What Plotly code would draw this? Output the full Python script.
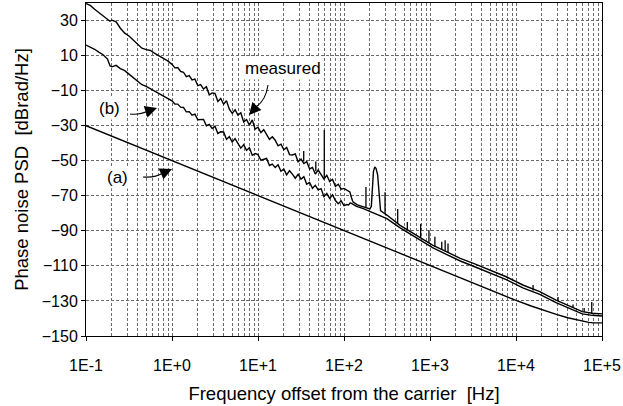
import plotly.graph_objects as go

# ---------------- data ----------------
# curve (a): model
a_freq = [0.1, 1, 10, 100, 1000, 5000, 10000, 15000, 20000, 25000, 30000,
          40000, 50000, 60000, 70000, 80000, 90000, 100000]
a_psd = [-30, -50, -70, -90, -110, -123.9, -129.7, -132.9, -135.0, -136.6,
         -137.8, -139.6, -140.8, -141.7, -142.2, -142.5, -142.6, -142.5]

# noisy low-frequency part (shared frequency grid)
low_freq = [0.1, 0.112, 0.126, 0.141, 0.158, 0.178, 0.19, 0.2, 0.224, 0.251,
            0.282, 0.316, 0.355, 0.398, 0.447, 0.501, 0.562, 0.631, 0.708,
            0.794, 0.891]
mid_freq = [1.000, 1.080, 1.166, 1.259, 1.359, 1.468, 1.585, 1.711, 1.848,
            1.995, 2.154, 2.326, 2.512, 2.712, 2.929, 3.162, 3.415, 3.687,
            3.981, 4.299, 4.642, 5.012, 5.412, 5.843, 6.310, 6.813, 7.356,
            7.943, 8.577, 9.261]
high_freq = [10.00, 10.80, 11.66, 12.59, 13.59, 14.68, 15.85, 17.11, 18.48,
             19.95, 21.54, 23.26, 25.12, 27.12, 29.29, 31.62, 34.15, 36.87,
             39.81, 42.99, 46.42, 50.12, 54.12, 58.43, 63.10, 68.13, 73.56,
             79.43, 85.77, 92.61, 100.0, 108.0]

meas_low = [39.7, 38.6, 36.4, 34.6, 33.0, 30.8, 29.6, 30.2, 29.2, 25.6, 22.8,
            21.2, 18.8, 16.6, 14.2, 13.4, 12.9, 11.2, 9.8, 8.0, 7.0]
meas_mid = [5.0, 3.0, 3.2, 1.0, 0.5, -2.0, -1.4, -3.9, -3.4, -7.2, -6.6,
            -9.1, -7.8, -12.4, -11.3, -11.6, -16.2, -14.5, -17.8, -15.8,
            -20.6, -23.0, -20.9, -24.0, -22.6, -27.9, -26.5, -29.7, -26.7,
            -32.0]
meas_high = [-30.9, -33.9, -32.3, -35.3, -37.8, -36.3, -38.3, -41.5, -40.6,
             -43.7, -42.4, -46.5, -46.7, -46.1, -50.6, -49.1, -51.6, -50.5,
             -54.7, -53.8, -57.6, -55.3, -57.7, -60.4, -58.3, -61.9, -60.6,
             -64.6, -63.4, -66.2, -65.8, -67.0]

b_low = [16.0, 15.0, 13.6, 12.0, 10.5, 8.0, 4.2, 3.6, 4.4, 2.6, 1.4, -0.6,
         -2.5, -4.4, -6.6, -7.6, -9.0, -10.4, -12.0, -13.2, -14.6]
b_mid = [-15.8, -17.6, -17.7, -19.4, -19.6, -22.1, -22.0, -24.0, -23.4,
         -26.6, -26.3, -26.4, -30.0, -29.2, -31.6, -30.3, -34.4, -33.5, -33.6,
         -37.8, -36.3, -39.3, -37.4, -40.5, -42.8, -40.9, -44.1, -42.6, -46.9,
         -45.9]
b_high = [-46.5, -49.7, -49.0, -48.7, -52.7, -51.9, -53.9, -52.3, -56.0,
          -54.8, -58.1, -55.7, -57.6, -60.0, -57.7, -60.5, -59.1, -63.4,
          -62.4, -65.7, -64.0, -66.6, -65.9, -70.5, -68.6, -71.5, -69.4,
          -72.7, -74.5, -72.9, -75.6, -75.0]

# smooth high-frequency parts
meas_hf_freq = [113, 117, 122, 127, 143, 163, 175, 190, 200, 208, 214, 220,
                228, 236, 246, 256, 266, 290, 315, 445, 695, 1070, 1570, 2250,
                3200, 4950, 7700, 12000, 18900, 29200, 45500, 59000, 77000,
                100000]
meas_hf_psd = [-67.5, -67.8, -71.0, -73.5, -75.2, -76.0, -76.5, -77.0, -77.5,
               -76.0, -64.0, -56.0, -53.5, -54.5, -58.0, -70.0, -78.5, -79.8,
               -81.0, -86.7, -92.4, -98.1, -102.0, -105.7, -108.6, -112.4,
               -116.2, -120.9, -124.7, -129.5, -133.6, -136.1, -137.0, -137.4]

b_hf_freq = [113, 118, 125, 140, 165, 200, 275, 315, 445, 695, 1070, 1570,
             2250, 3200, 4950, 7700, 12000, 18900, 29200, 45500, 59000, 77000,
             100000]
b_hf_psd = [-75.2, -74.0, -74.6, -76.0, -77.2, -79.0, -81.6, -83.0, -88.2,
            -94.0, -99.6, -103.6, -107.2, -110.2, -114.0, -117.8, -122.5,
            -126.3, -131.0, -135.0, -137.4, -138.2, -138.6]

# discrete spurs on the measured spectrum
spur_freq = [34, 47, 59, 180, 300, 421, 545, 778, 972, 1140, 1370, 1500, 1620,
             15800, 30800, 46000, 62000, 76000]
spur_base = [-50.5, -56.0, -59.5, -76.5, -80.3, -86.0, -89.5, -94.0, -97.0,
             -99.0, -100.8, -101.6, -102.2, -124.0, -130.0, -133.7, -136.3,
             -137.0]
spur_top = [-44.5, -50.5, -32.5, -65.0, -68.0, -77.5, -85.0, -86.0, -89.6,
            -93.4, -96.2, -95.3, -97.2, -120.9, -127.7, -132.0, -134.0,
            -130.6]

xtick_vals = [0.1, 1, 10, 100, 1000, 10000, 100000]
xtick_text = ["1E-1", "1E+0", "1E+1", "1E+2", "1E+3", "1E+4", "1E+5"]
ytick_vals = [-150, -130, -110, -90, -70, -50, -30, -10, 10, 30]

# ---------------- figure ----------------
FONT = "Arial, Liberation Sans, sans-serif"
LINE = dict(color="black", width=1.4)

fig = go.Figure()
fig.add_trace(go.Scatter(x=a_freq, y=a_psd, mode="lines", line=dict(color="black", width=1.4),
                         hoverinfo="skip"))
fig.add_trace(go.Scatter(x=low_freq + mid_freq + high_freq + b_hf_freq,
                         y=b_low + b_mid + b_high + b_hf_psd,
                         mode="lines", line=LINE, hoverinfo="skip"))
fig.add_trace(go.Scatter(x=low_freq + mid_freq + high_freq + meas_hf_freq,
                         y=meas_low + meas_mid + meas_high + meas_hf_psd,
                         mode="lines", line=LINE, hoverinfo="skip"))
sx, sy = [], []
for f, b, t in zip(spur_freq, spur_base, spur_top):
    sx += [f, f, None]
    sy += [b, t, None]
fig.add_trace(go.Scatter(x=sx, y=sy, mode="lines", line=dict(color="black", width=1.3),
                         hoverinfo="skip"))

minor_vals = [m * 10 ** e for e in range(-1, 5) for m in range(2, 10)]
grid_col = "#6a6a6a"

fig.update_xaxes(type="log", range=[-1, 5], tickvals=xtick_vals, ticktext=xtick_text,
                 showline=True, linecolor="black", linewidth=1, mirror=True,
                 ticks="outside", ticklen=4, tickcolor="black",
                 showgrid=True, gridcolor=grid_col, gridwidth=1, griddash="3px,2px",
                 minor=dict(tickvals=minor_vals, showgrid=True, gridcolor=grid_col,
                            gridwidth=1, griddash="3px,2px", ticks=""),
                 tickfont=dict(family=FONT, size=16, color="black"),
                 ticklabelstandoff=11,
                 title=dict(text="Frequency offset from the carrier  [Hz]",
                            font=dict(family=FONT, size=18.5, color="black"), standoff=13),
                 zeroline=False)
fig.update_yaxes(range=[-150, 40], tickvals=ytick_vals,
                 showline=True, linecolor="black", linewidth=1, mirror=True,
                 ticks="outside", ticklen=4, tickcolor="black",
                 showgrid=True, gridcolor=grid_col, gridwidth=1, griddash="3px,2px",
                 tickfont=dict(family=FONT, size=16, color="black"),
                 title=dict(text="Phase noise PSD  [dBrad/Hz]",
                            font=dict(family=FONT, size=18.5, color="black"), standoff=8),
                 zeroline=False)

# text labels
lab_font = dict(family=FONT, size=17, color="black")
fig.add_annotation(x=1.29, y=2.7, xref="x", yref="y", text="measured", showarrow=False,
                   font=lab_font, bgcolor="white")
fig.add_annotation(x=-0.721, y=-20.1, xref="x", yref="y", text="(b)", showarrow=False,
                   font=lab_font, bgcolor="white")
fig.add_annotation(x=-0.628, y=-59.4, xref="x", yref="y", text="(a)", showarrow=False,
                   font=lab_font, bgcolor="white")

# curved arrow tails (paper coordinates) + filled arrow heads
tails = [
    "M 0.3527,0.7538 Q 0.3488,0.7087 0.3295,0.6877",
    "M 0.0853,0.6667 Q 0.1047,0.6637 0.1202,0.6757",
    "M 0.1105,0.4775 Q 0.1337,0.4745 0.1492,0.4895",
]
for p in tails:
    fig.add_shape(type="path", path=p, xref="paper", yref="paper",
                  line=dict(color="black", width=1.1))
heads = [(0.3159, 0.6637, 7, -8), (0.1376, 0.6847, -9, 3), (0.1667, 0.5015, -9, 4)]
for x, y, ax, ay in heads:
    fig.add_annotation(x=x, y=y, xref="paper", yref="paper", text="", showarrow=True,
                       ax=ax, ay=ay, arrowhead=2, arrowsize=2.0, arrowwidth=1.2,
                       arrowcolor="black", standoff=0)

fig.update_layout(width=623, height=406, margin=dict(l=86, r=21, t=3, b=70),
                  paper_bgcolor="white", plot_bgcolor="white", showlegend=False)

fig.write_html("out.html")
